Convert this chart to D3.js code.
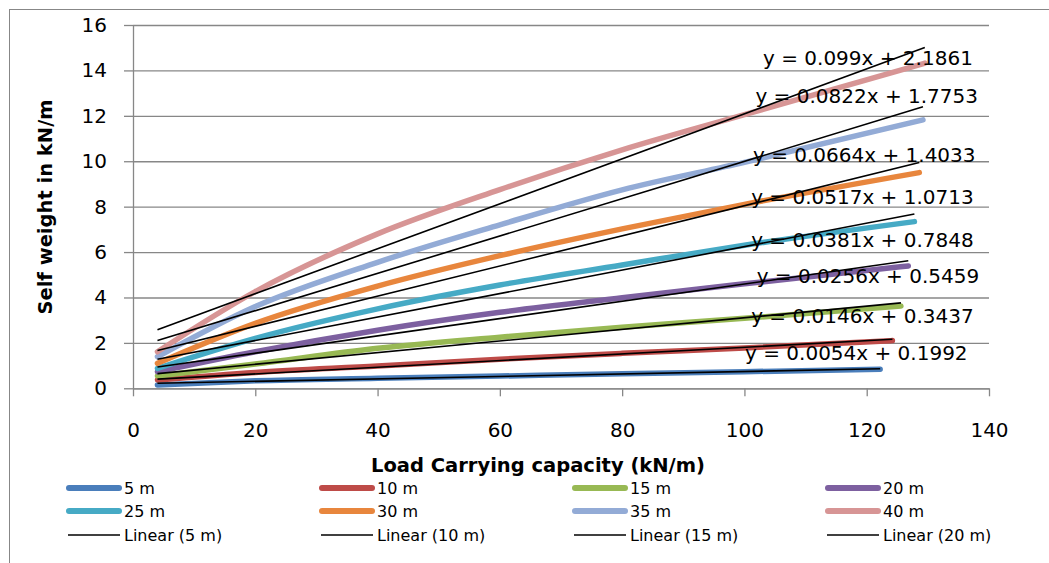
<!DOCTYPE html>
<html>
<head>
<meta charset="utf-8">
<script src="https://cdn.jsdelivr.net/npm/d3@7"></script>
<style>
    body { margin: 0; background: #fff; }
    svg { display: block; font-family: "DejaVu Sans", sans-serif; }
</style>
</head>
<body>
<svg id="self-weight-chart"></svg>
<script>
// span names of the series
const spans = ["5 m", "10 m", "15 m", "20 m", "25 m", "30 m", "35 m", "40 m"];

// load carrying capacity (kN/m) where each curve was read, last value is the end of each curve
const loadGrid = [4, 20, 40, 60, 80, 100];
const loadEnd = [122.2, 124.2, 125.6, 126.8, 127.8, 128.6, 129.2, 129.5];

// self weight (kN/m) per span, at loadGrid then at loadEnd
const w5 = [0.15, 0.33, 0.44, 0.54, 0.64, 0.73, 0.84];
const w10 = [0.37, 0.70, 0.98, 1.28, 1.54, 1.78, 2.10];
const w15 = [0.54, 1.07, 1.76, 2.25, 2.69, 3.08, 3.62];
const w20 = [0.73, 1.61, 2.56, 3.35, 3.99, 4.60, 5.39];
const w25 = [0.88, 2.20, 3.50, 4.55, 5.43, 6.30, 7.34];
const w30 = [1.10, 2.86, 4.50, 5.84, 7.02, 8.10, 9.50];
const w35 = [1.39, 3.60, 5.55, 7.20, 8.74, 9.95, 11.82];
const w40 = [1.61, 4.26, 6.80, 8.75, 10.50, 12.05, 14.32];
const selfWeights = [w5, w10, w15, w20, w25, w30, w35, w40];

// linear trendlines shown on the chart
const slopes = [0.0054, 0.0146, 0.0256, 0.0381, 0.0517, 0.0664, 0.0822, 0.099];
const intercepts = [0.1992, 0.3437, 0.5459, 0.7848, 1.0713, 1.4033, 1.7753, 2.1861];

// axis ticks
const xTicks = [0, 20, 40, 60, 80, 100, 120, 140];
const yTicks = [0, 2, 4, 6, 8, 10, 12, 14, 16];

const colors = ["#4A7EBB", "#BE4B48", "#98B954", "#7D60A0", "#46AAC5", "#E8863D", "#93ABD6", "#D79595"];

// where Excel put the equation labels (in data units)
const eqLabelPos = [[118.3, 1.55], [119.3, 3.19], [120.2, 4.95], [119.3, 6.53],
                    [119.3, 8.44], [119.6, 10.28], [120.0, 12.88], [120.2, 14.54]];

const render = (width = 1049, height = 563) => {
    const svg = d3.select("#self-weight-chart").attr("width", width).attr("height", height);
    svg.html('');

    const grey = "#878787";
    const x = d3.scaleLinear().domain([0, 140]).range([133, 989]);
    const y = d3.scaleLinear().domain([0, 16]).range([388.3, 25]);

    // chart area border (right and bottom fall outside the picture)
    svg.append("rect")
        .attr("x", 9.5).attr("y", 9.5)
        .attr("width", 1100).attr("height", 600)
        .attr("fill", "none").attr("stroke", grey);

    // horizontal gridlines + y axis
    const yAxis = svg.append("g")
        .attr("transform", `translate(${x(0)},0)`)
        .call(d3.axisLeft(y).tickValues(yTicks).tickSizeInner(9).tickSizeOuter(0).tickPadding(17));
    yAxis.selectAll(".tick line").clone()
        .attr("x2", x(140) - x(0));
    yAxis.selectAll("line, path").attr("stroke", grey).attr("stroke-width", 1.3);
    yAxis.selectAll("text").attr("font-size", 20).attr("fill", "#000")
        .attr("font-family", "DejaVu Sans");

    // x axis
    const xAxis = svg.append("g")
        .attr("transform", `translate(0,${y(0)})`)
        .call(d3.axisBottom(x).tickValues(xTicks).tickSizeInner(8).tickSizeOuter(0).tickPadding(27));
    xAxis.selectAll("line, path").attr("stroke", grey).attr("stroke-width", 1.3);
    xAxis.selectAll("text").attr("font-size", 20).attr("fill", "#000")
        .attr("font-family", "DejaVu Sans");

    // axis titles
    svg.append("text")
        .attr("transform", `translate(45,207) rotate(-90)`)
        .attr("text-anchor", "middle").attr("dominant-baseline", "central")
        .attr("font-size", 19.5).attr("font-weight", "bold")
        .text("Self weight in kN/m");
    svg.append("text")
        .attr("x", 538).attr("y", 465)
        .attr("text-anchor", "middle").attr("dominant-baseline", "central")
        .attr("font-size", 19.5).attr("font-weight", "bold")
        .text("Load Carrying capacity (kN/m)");

    // build series points
    const series = spans.map((name, i) => {
        const loads = loadGrid.concat([loadEnd[i]]);
        return {
            name,
            color: colors[i],
            points: loads.map((l, j) => ({ load: l, weight: selfWeights[i][j] })),
            start: loads[0],
            end: loads[loads.length - 1],
            slope: slopes[i],
            intercept: intercepts[i]
        };
    });

    const line = d3.line()
        .x(d => x(d.load))
        .y(d => y(d.weight))
        .curve(d3.curveMonotoneX);

    svg.append("g").selectAll("path")
        .data(series)
        .join("path")
        .attr("d", d => line(d.points))
        .attr("fill", "none")
        .attr("stroke", d => d.color)
        .attr("stroke-width", 5.5)
        .attr("stroke-linecap", "round");

    // trendlines on top
    svg.append("g").selectAll("line")
        .data(series)
        .join("line")
        .attr("x1", d => x(d.start))
        .attr("y1", d => y(d.slope * d.start + d.intercept))
        .attr("x2", d => x(d.end))
        .attr("y2", d => y(d.slope * d.end + d.intercept))
        .attr("stroke", "#000")
        .attr("stroke-width", 1.6);

    // equation labels
    svg.append("g").selectAll("text")
        .data(series)
        .join("text")
        .attr("x", (d, i) => x(eqLabelPos[i][0]))
        .attr("y", (d, i) => y(eqLabelPos[i][1]))
        .attr("text-anchor", "middle")
        .attr("dominant-baseline", "central")
        .attr("font-size", 20)
        .text(d => `y = ${d.slope}x + ${d.intercept}`);

    // legend: 8 series then first 4 linear fits, 4 columns
    const legendItems = series.map(d => ({ label: d.name, color: d.color, thick: true }))
        .concat(series.slice(0, 4).map(d => ({ label: `Linear (${d.name})`, color: "#000", thick: false })));
    const colX = [66, 319, 572, 825];
    const rowY = [488, 511, 535];

    const legend = svg.append("g").selectAll("g")
        .data(legendItems)
        .join("g")
        .attr("transform", (d, i) => `translate(${colX[i % 4]},${rowY[Math.floor(i / 4)]})`);
    legend.append("line")
        .attr("x1", d => d.thick ? 3 : 2).attr("x2", d => d.thick ? 53 : 54)
        .attr("stroke", d => d.color)
        .attr("stroke-width", d => d.thick ? 6 : 1.6)
        .attr("stroke-linecap", d => d.thick ? "round" : "butt");
    legend.append("text")
        .attr("x", 58)
        .attr("dominant-baseline", "central")
        .attr("font-size", 16)
        .text(d => d.label);
};

render();
</script>
</body>
</html>
